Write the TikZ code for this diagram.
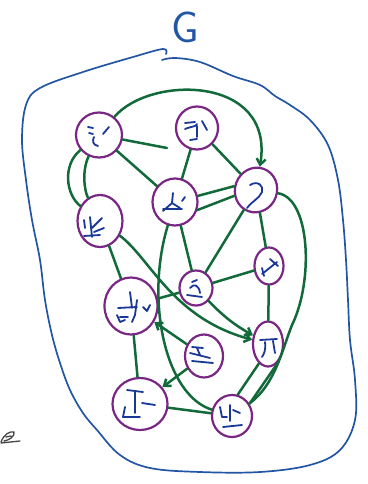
\documentclass[tikz,border=0pt]{standalone}
\usepackage{tikz}
\usetikzlibrary{arrows.meta,shapes.geometric}

\definecolor{hullblue}{RGB}{35,85,165}
\definecolor{edgegreen}{RGB}{18,105,58}
\definecolor{ringpurple}{RGB}{122,38,132}
\definecolor{inkblue}{RGB}{25,55,150}
\definecolor{pengray}{RGB}{70,70,70}

\begin{document}
\begin{tikzpicture}[
  x=1pt,y=-1pt,
  >={Straight Barb[length=6pt,width=9pt]},
  vertex/.style={ellipse, draw=ringpurple, line width=2.2pt, inner sep=0pt, fill=none},
  edge/.style={draw=edgegreen, line width=2.5pt, line cap=round},
  arc/.style={edge, ->},
  glyph/.style={draw=inkblue, line width=1.8pt, line cap=round, line join=round},
  hull/.style={draw=hullblue, line width=1.7pt, line cap=round}
]
\useasboundingbox (0,0) rectangle (367,484);

% Title and outline
\node[text=hullblue, font=\fontsize{44}{44}\selectfont\sffamily] (title) at (185,27) {G};
\draw[hull] plot[smooth, tension=0.6] coordinates {(166,54) (163,49) (133,57) (83,72) (40,88) (26,105)
  (22,140) (26,180) (32,220) (40,260) (45,300) (52,335) (60,363) (70,390) (83,413) (97,430)
  (120,455) (150,468) (200,472) (260,472) (310,465) (340,450) (355,420) (355,380) (350,340)
  (348,300) (346,260) (343,220) (338,180) (328,145) (310,120) (290,105) (275,96) (260,85)
  (233,76) (200,62) (175,58) (162,60)};
\draw[pengray, line width=1.3pt, line cap=round]
  (1,442) .. controls (4,434) and (10,431) .. (14,432) .. controls (15,436) and (10,440) .. (4,441)
  (1,443) -- (20,441) (6,437) -- (11,436);

% ================= vertices =================
\node[vertex, minimum width=46, minimum height=45] (A) at (99,135) {};
\node[vertex, minimum width=42, minimum height=43] (B) at (197,128) {};
\node[vertex, minimum width=45, minimum height=47] (C) at (175,202) {};
\node[vertex, minimum width=42, minimum height=45, rotate=-20] (D) at (256,190) {};
\node[vertex, minimum width=45, minimum height=52] (E) at (100,221) {};
\node[vertex, minimum width=33, minimum height=35] (F) at (196,288) {};
\node[vertex, minimum width=29, minimum height=37] (G) at (269,266) {};
\node[vertex, minimum width=53, minimum height=57] (H) at (131,306) {};
\node[vertex, minimum width=38, minimum height=43] (I) at (204,356) {};
\node[vertex, minimum width=30, minimum height=45] (J) at (268,344) {};
\node[vertex, minimum width=55, minimum height=52] (K) at (140,404) {};
\node[vertex, minimum width=40, minimum height=42] (L) at (232,416) {};
\coordinate (a-tail) at (167,148);

% ================= edges =================
\draw[arc] (A) .. controls (150,75) and (275,75) .. (D);
\draw[edge] (A) .. controls (62,165) and (66,195) .. (E);
\draw[edge] (A) .. controls (82,170) and (84,190) .. (E);
\draw[edge] (A) -- (a-tail);
\draw[edge] (A) -- (C);
\draw[edge] (B) -- (C);
\draw[edge] (B) -- (D);
\draw[edge] (C.15) -- (D.190);
\draw[edge] (C.-20) -- (D.215);
\draw[edge] (C) -- (F);
\draw[edge] (D) -- (F);
\draw[edge] (D) -- (G);
\draw[edge] (D) .. controls (310,198) and (314,280) .. (292,325)
  .. controls (282,350) and (275,385) .. (L);
\draw[edge] (E) -- (H);
\draw[arc] (E) .. controls (150,258) and (172,318) .. (J);
\draw[edge] (C) .. controls (145,300) and (165,395) .. (L);
\draw[edge] (H) -- (F);
\draw[edge] (F) -- (G);
\draw[arc] (F) to[bend right=8] (J);
\draw[edge] (G) -- (J);
\draw[arc] (I) -- (H);
\draw[arc] (I) -- (K);
\draw[edge] (H) -- (K);
\draw[edge] (K) -- (L);
\draw[edge] (J.-115) -- (L.75);
\draw[edge] (J.-60) -- (L.35);

% ================= scribbled labels =================
\draw[glyph] (88,127) -- (93,128) (89,133) -- (93,134) (103,134) -- (109,127)
  (94,137) .. controls (92,141) and (93,145) .. (98,146);
\draw[glyph] (185,123) -- (195,122) (185,129) .. controls (192,126) and (196,127) .. (197,124)
  (197,126) -- (197,137) (190,140) -- (197,139) (202,121) -- (207,130);
\draw[glyph] (173,193) -- (172,203) -- (163,211) (172,203) -- (180,208) (163,209) -- (182,209)
  (182,201) -- (185,197);
\draw[glyph] (250,185) .. controls (258,180) and (264,186) .. (262,192)
  .. controls (259,199) and (252,201) .. (247,208);
\draw[glyph] (84,220) -- (85,228) (90,217) -- (92,237) (92,228) -- (102,218)
  (94,232) -- (104,228) (84,236) -- (100,235);
\draw[glyph] (192,282) -- (197,280) (190,288) .. controls (194,283) and (199,285) .. (200,293)
  (187,295) -- (202,297);
\draw[glyph] (262,274) -- (277,262) (270,259) -- (278,266) (262,268) -- (264,276);
\draw[glyph] (130,292) -- (132,308) (118,308) -- (137,307) (137,300) -- (135,315) -- (132,322)
  (117,315) -- (120,322) -- (125,320) (120,317) -- (128,317)
  (143,307) -- (147,311) -- (150,305);
\draw[glyph] (192,347) -- (203,348) (197,348) -- (200,355) (190,353) -- (210,358)
  (192,361) -- (213,363);
\draw[glyph] (260,340) -- (277,339) (265,342) .. controls (266,350) and (264,354) .. (262,357)
  (273,341) -- (275,353);
\draw[glyph] (127,390) -- (143,392) (135,392) -- (135,413) (125,407) -- (123,417) -- (140,417)
  (142,403) -- (155,405);
\draw[glyph] (220,407) -- (222,417) -- (227,417) (230,405) -- (230,421) (233,410) -- (240,413)
  (223,427) -- (242,425);

\end{tikzpicture}
\end{document}
